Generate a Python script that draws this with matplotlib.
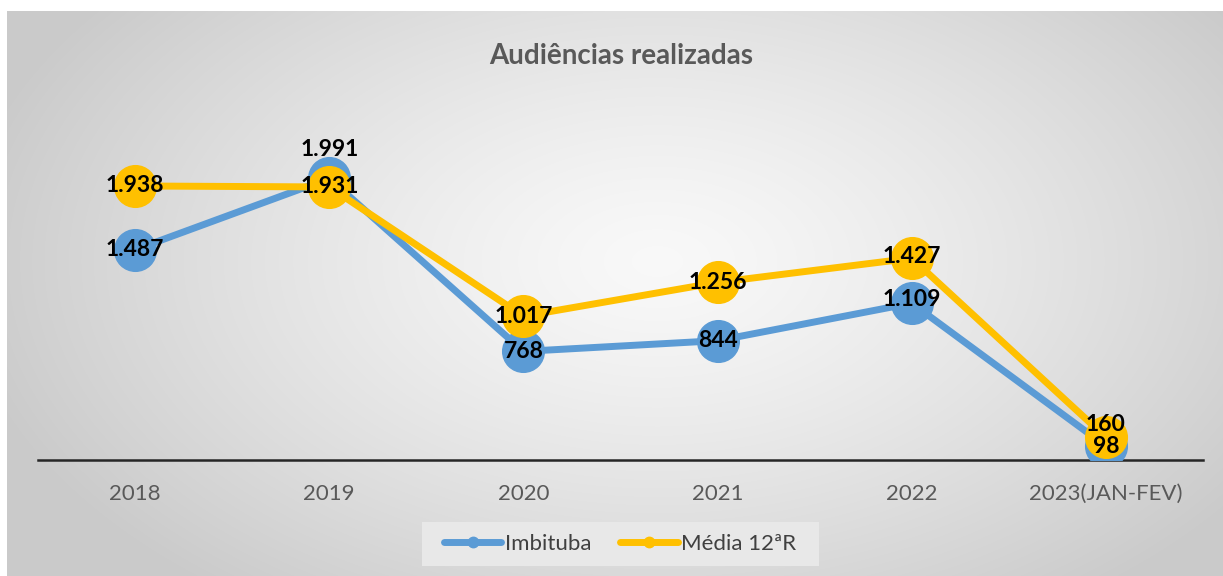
import numpy as np
import matplotlib
matplotlib.use("Agg")
import matplotlib.pyplot as plt
from matplotlib.patches import Rectangle

categories = ["2018", "2019", "2020", "2021", "2022", "2023(JAN-FEV)"]
imbituba = [1487, 1991, 768, 844, 1109, 98]
media = [1938, 1931, 1017, 1256, 1427, 160]
series_names = ["Imbituba", "Média 12ªR"]
title = "Audiências realizadas"

BLUE = "#5B9BD5"
YELLOW = "#FFC000"

W, H = 1223, 576
fig = plt.figure(figsize=(W / 100, H / 100), dpi=100)
fig.patch.set_facecolor("white")

# radial gradient background
bg = fig.add_axes([7 / W, 0, 1 - 7 / W, (H - 11) / H], zorder=0)
yy, xx = np.mgrid[0:565, 0:1216]
cx, cy = 650, 250
r = np.sqrt(((xx - cx) / 700.0) ** 2 + ((yy - cy) / 420.0) ** 2)
r = np.clip(r, 0, 1)
c = 0.975 - 0.18 * r ** 1.3
img = np.dstack([c, c, c])
bg.imshow(img, aspect="auto", extent=[0, 1, 0, 1], origin="upper")
bg.axis("off")

ax = fig.add_axes([38 / W, (H - 460) / H, (1203 - 38) / W, (460 - 106.5) / H], zorder=2)
ax.patch.set_alpha(0)
x = np.arange(len(categories))

ax.plot(x, imbituba, color=BLUE, lw=5, marker="o", ms=30, mec=BLUE, mfc=BLUE,
        label=series_names[0], solid_capstyle="round", zorder=3)
ax.plot(x, media, color=YELLOW, lw=5, marker="o", ms=30, mec=YELLOW, mfc=YELLOW,
        label=series_names[1], solid_capstyle="round", zorder=4)

ax.set_xlim(-0.5, len(categories) - 0.5)
ax.set_ylim(0, 2500)
ax.set_yticks([])
for s in ["top", "right", "left"]:
    ax.spines[s].set_visible(False)
ax.spines["bottom"].set_color("#262626")
ax.spines["bottom"].set_linewidth(1.8)
ax.spines["bottom"].set_zorder(1)
ax.set_xticks(x)
ax.set_xticklabels(categories, fontsize=16, color="#595959", family="Lato")
ax.tick_params(axis="x", length=0, pad=17)

lab_font = dict(fontsize=16.5, fontweight="bold", color="black", ha="center", va="center",
                family="Lato")
imb_off = [0, 21, 0, 0, 3, 0]
med_off = [0, 0, 0, 0, 1, 9]


def fmt(v):
    return f"{v:,}".replace(",", ".")


for i, v in enumerate(imbituba):
    ax.annotate(fmt(v), (x[i], v), xytext=(0, imb_off[i]), textcoords="offset points",
                zorder=6, **lab_font)
for i, v in enumerate(media):
    ax.annotate(fmt(v), (x[i], v), xytext=(0, med_off[i]), textcoords="offset points",
                zorder=6, **lab_font)

fig.text(621 / W, 1 - 56 / H, title, fontsize=20, fontweight="bold", color="#595959",
         ha="center", va="center", family="Lato")

# legend box
fig.patches.append(Rectangle((422 / W, 1 - 566 / H), (819 - 422) / W, 44 / H,
                             transform=fig.transFigure, facecolor="#e8e8e8",
                             edgecolor="none", zorder=1))
leg = fig.legend(loc="center", bbox_to_anchor=(620 / W, 1 - 544 / H), ncol=2,
                 frameon=False, markerscale=0.25, handlelength=2.6,
                 columnspacing=1.3, borderpad=0.0, handletextpad=0.15,
                 prop=dict(family="Lato", size=16))
leg.set_zorder(5)
for t in leg.get_texts():
    t.set_color("#404040")

fig.savefig("out.png", dpi=100)
